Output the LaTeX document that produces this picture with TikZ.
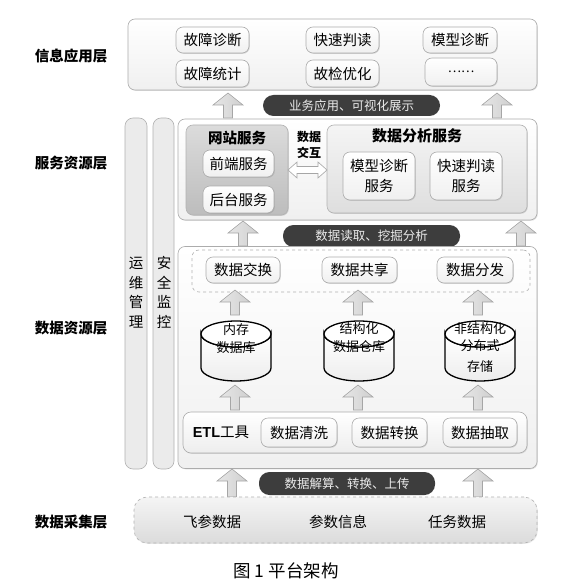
\documentclass[tikz,border=0pt]{standalone}
\usepackage{fontspec}
\setmainfont{Noto Sans CJK SC}
\newfontfamily\latinfont{Liberation Sans}
\usetikzlibrary{shadows,calc}
\tikzset{
  txt/.style={font=\fontsize{14.5}{20}\selectfont, inner sep=0pt, align=center},
  layerbox/.style={draw=gray!65, line width=0.6pt, rounded corners=7pt, top color=white, bottom color=gray!12,
     drop shadow={shadow xshift=0.8pt, shadow yshift=-0.8pt, opacity=0.25}, inner sep=0pt},
  itembox/.style={draw=gray!65, line width=0.6pt, rounded corners=7pt, top color=white, bottom color=gray!12,
     drop shadow={shadow xshift=0.8pt, shadow yshift=-0.8pt, opacity=0.3}, inner sep=0pt,
     font=\fontsize{14.5}{20}\selectfont, align=center},
  pillar/.style={draw=gray!60, line width=0.6pt, rounded corners=8pt, fill=gray!16, inner sep=0pt},
  pill/.style={fill=black!76, rounded corners=10.5pt, inner sep=0pt, text=white!92!black,
     font=\fontsize{12.5}{14}\selectfont},
  blockarrow/.style={draw=gray!70, line width=0.6pt, left color=gray!20, right color=gray!38, middle color=gray!28},
  layerlabel/.style={font=\fontsize{14.5}{16}\selectfont\bfseries, inner sep=0pt},
  cyl/.style={draw=black, line width=1.3pt, top color=white, bottom color=gray!14},
}
\newcommand\uparr[3]{\path[blockarrow] (#1-4.5,#2) -- (#1-4.5,#3+12) -- (#1-15,#3+12) -- (#1,#3) -- (#1+15,#3+12) -- (#1+4.5,#3+12) -- (#1+4.5,#2) -- cycle;}
\newcommand\cylinder[2]{% #1 = center x, #2 = name
  \path[cyl] (#1-35,334) -- (#1-35,368) arc (180:0:35 and 13) -- (#1+35,334) arc (0:180:35 and 13) -- cycle;
  \draw[line width=1.3pt, fill=white] (#1,334) ellipse (35 and 13);
  \coordinate (#2) at (#1,351);}
\begin{document}
\begin{tikzpicture}[x=1pt,y=-1pt]
\useasboundingbox (0,0) rectangle (584,588);
\fill[white] (0,0) rectangle (584,588);

% ---------- layer labels ----------
\node[layerlabel] (l1) at (71,56) {信息应用层};
\node[layerlabel] (l2) at (71,163) {服务资源层};
\node[layerlabel] (l3) at (71,328) {数据资源层};
\node[layerlabel] (l4) at (71,522) {数据采集层};

% ---------- information application layer ----------
\node[layerbox, minimum width=409pt, minimum height=71pt] (top) at (332.5,54.5) {};
\node[itembox, minimum width=73pt, minimum height=26pt] (a1) at (212.5,40) {故障诊断};
\node[itembox, minimum width=73pt, minimum height=27pt] (a2) at (212.5,73.5) {故障统计};
\node[itembox, minimum width=73pt, minimum height=26pt] (a3) at (342.5,40) {快速判读};
\node[itembox, minimum width=73pt, minimum height=27pt] (a4) at (342.5,73.5) {故检优化};
\node[itembox, minimum width=74pt, minimum height=26pt] (a5) at (460,40) {模型诊断};
\node[itembox, minimum width=72pt, minimum height=28pt] (a6) at (461,72) {\fontsize{12.5}{14}\selectfont ……};

\uparr{228}{118}{93}
\uparr{497}{118}{93}
\node[pill, minimum width=177pt, minimum height=21pt] (p1) at (351.5,105.5) {业务应用、可视化展示};

% ---------- pillars ----------
\node[pillar, minimum width=22pt, minimum height=351pt] (om) at (136,293.5) {};
\node[pillar, minimum width=21pt, minimum height=351pt] (sm) at (163.5,293.5) {};
\node[txt, font=\fontsize{14.5}{19.5}\selectfont] (omt) at (136,292.5) {运\\维\\管\\理};
\node[txt, font=\fontsize{14.5}{19.5}\selectfont] (smt) at (164,292.5) {安\\全\\监\\控};

% ---------- service resource layer ----------
\node[layerbox, minimum width=359pt, minimum height=101pt] (svc) at (357.5,169.5) {};
\node[draw=gray!60, line width=0.6pt, rounded corners=7pt, top color=gray!28, bottom color=gray!52,
      drop shadow={shadow xshift=0.8pt, shadow yshift=-0.8pt, opacity=0.3},
      minimum width=102pt, minimum height=90pt, inner sep=0pt] (web) at (237,170) {};
\node[txt, font=\fontsize{14.5}{16}\selectfont\bfseries] (webt) at (237,138) {网站服务};
\node[itembox, minimum width=71pt, minimum height=27pt] (fe) at (238.5,163.5) {前端服务};
\node[itembox, minimum width=71pt, minimum height=27pt] (be) at (238.5,199.5) {后台服务};

\node[draw=gray!60, line width=0.6pt, rounded corners=7pt, top color=gray!8, bottom color=gray!26,
      drop shadow={shadow xshift=0.8pt, shadow yshift=-0.8pt, opacity=0.3},
      minimum width=200pt, minimum height=88pt, inner sep=0pt] (ana) at (427,169) {};
\node[txt, font=\fontsize{15}{16}\selectfont\bfseries] (anat) at (417,136) {数据分析服务};
\node[itembox, minimum width=72pt, minimum height=48pt] (md) at (379,176) {模型诊断\\服务};
\node[itembox, minimum width=72pt, minimum height=48pt] (qr) at (466,176) {快速判读\\服务};

\node[txt, font=\fontsize{12}{15.5}\selectfont\bfseries] (xch) at (309,145) {数据\\交互};
\path[draw=gray!70, line width=0.6pt, fill=white]
  (288,170) -- (297,162) -- (297,166.5) -- (318,166.5) -- (318,162) -- (327,170)
  -- (318,178) -- (318,173.5) -- (297,173.5) -- (297,178) -- cycle;

\uparr{243}{246}{221}
\uparr{521}{246}{221}
\node[pill, minimum width=177pt, minimum height=22pt] (p2) at (371.5,236) {数据读取、挖掘分析};

% ---------- data resource layer ----------
\node[layerbox, minimum width=359pt, minimum height=222pt] (data) at (357.5,357.5) {};
\node[draw=gray!60, dashed, line width=0.6pt, rounded corners=7pt, minimum width=338pt, minimum height=42pt, inner sep=0pt] (dsh) at (361,271) {};
\node[itembox, minimum width=74pt, minimum height=26pt] (d1) at (243,270) {数据交换};
\node[itembox, minimum width=75pt, minimum height=26pt] (d2) at (359.5,270) {数据共享};
\node[itembox, minimum width=76pt, minimum height=26pt] (d3) at (475,270) {数据分发};

\uparr{235}{315}{290}
\uparr{358}{315}{290}
\uparr{478}{315}{290}

\cylinder{236}{c1}
\cylinder{359}{c2}
\cylinder{480}{c3}
\node[txt, font=\fontsize{13}{17.5}\selectfont] (c1t) at (236,338.5) {内存\\数据库};
\node[txt, font=\fontsize{13}{18.5}\selectfont] (c2t) at (359,337.5) {结构化\\数据仓库};
\node[txt, font=\fontsize{13}{17}\selectfont] (c3t) at (480,337) {非结构化\\分布式};
\node[txt, font=\fontsize{13}{15}\selectfont] (c3s) at (480,367) {存储};

\uparr{235}{410}{385}
\uparr{358}{410}{385}
\uparr{478}{410}{385}

\node[draw=gray!65, line width=0.6pt, rounded corners=8pt, top color=white, bottom color=gray!14,
      drop shadow={shadow xshift=0.8pt, shadow yshift=-0.8pt, opacity=0.25},
      minimum width=344pt, minimum height=41pt, inner sep=0pt] (etl) at (355,432.5) {};
\node[txt] (etlt) at (221,432) {{\latinfont\bfseries ETL}工具};
\node[itembox, minimum width=76pt, minimum height=29pt] (e1) at (299,432.5) {数据清洗};
\node[itembox, minimum width=75pt, minimum height=29pt] (e2) at (389.5,432.5) {数据转换};
\node[itembox, minimum width=74pt, minimum height=29pt] (e3) at (480,432.5) {数据抽取};

% ---------- data acquisition layer ----------
\uparr{232}{497}{469}
\uparr{478}{497}{469}
\node[pill, minimum width=176pt, minimum height=23pt] (p3) at (347,483.5) {数据解算、转换、上传};

\node[draw=gray!60, dashed, line width=0.6pt, rounded corners=13pt, top color=gray!8, bottom color=gray!28,
      drop shadow={shadow xshift=0.8pt, shadow yshift=-0.8pt, opacity=0.2},
      minimum width=403pt, minimum height=46pt, inner sep=0pt] (acq) at (335.5,520) {};
\node[txt] (f1) at (212,522) {飞参数据};
\node[txt] (f2) at (338,522) {参数信息};
\node[txt] (f3) at (457,522) {任务数据};

% ---------- caption ----------
\node[txt, font=\fontsize{17.5}{19}\selectfont] (cap) at (286,571) {图 1 平台架构};
\end{tikzpicture}
\end{document}
